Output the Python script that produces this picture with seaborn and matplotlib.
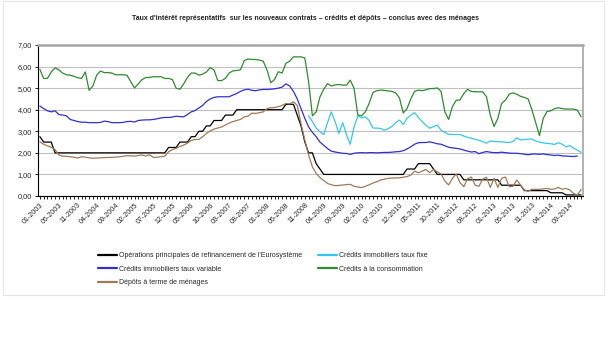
import numpy as np
import pandas as pd
import matplotlib
matplotlib.use("Agg")
import matplotlib.pyplot as plt
import seaborn as sns
from matplotlib.lines import Line2D
from matplotlib.patches import Rectangle

sns.set_theme(style="white")
plt.rcParams['font.family'] = ['Liberation Sans', 'DejaVu Sans']

title = "Taux d'intérêt représentatifs  sur les nouveaux contrats – crédits et dépôts – conclus avec des ménages"

months = [f"{m:02d}-{y}" for y in range(2003, 2015) for m in range(1, 13)]

series_names = [
    "Opérations principales de refinancement de l'Eurosystème",
    "Crédits immobiliers taux fixe",
    "Crédits immobiliers taux variable",
    "Crédits à la consommation",
    "Dépôts à terme de ménages",
]

refi = ([2.75] + [2.50] * 3 + [2.00] * 30 + [2.25] * 3 + [2.50] * 3 + [2.75] * 2 + [3.00] * 2
        + [3.25] * 2 + [3.50] * 3 + [3.75] * 3 + [4.00] * 13 + [4.25] * 3 + [3.75, 3.25, 2.50, 2.00, 2.00, 1.50, 1.25]
        + [1.00] * 22 + [1.25] * 3 + [1.50] * 4 + [1.25] + [1.00] * 7 + [0.75] * 10 + [0.50] * 6
        + [0.25] * 7 + [0.15] * 4 + [0.05] * 5)

fixe = [np.nan] * 71 + [
    3.72, 3.45, 3.15, 2.98, 2.85, 3.40, 3.90, 3.45, 2.90, 3.40,
    2.85, 2.40, 3.20, 3.70, 3.62, 3.67, 3.50, 3.15, 3.15, 3.13,
    3.05, 3.12, 3.22, 3.40, 3.52, 3.32, 3.60, 3.75, 3.86, 3.65,
    3.45, 3.28, 3.14, 3.22, 3.29, 3.05, 2.95, 2.86, 2.85, 2.85,
    2.85, 2.78, 2.72, 2.68, 2.63, 2.59, 2.52, 2.45, 2.55, 2.53,
    2.52, 2.51, 2.49, 2.48, 2.52, 2.70, 2.60, 2.62, 2.63, 2.64,
    2.55, 2.50, 2.46, 2.44, 2.42, 2.39, 2.47, 2.40, 2.28, 2.34,
    2.22, 2.13, 2.02]

variable = [
    4.17, 4.05, 3.95, 3.90, 3.95, 3.78, 3.75, 3.72, 3.55, 3.50,
    3.45, 3.42, 3.42, 3.40, 3.40, 3.40, 3.41, 3.47, 3.45, 3.40,
    3.40, 3.40, 3.41, 3.45, 3.46, 3.43, 3.50, 3.52, 3.53, 3.53,
    3.55, 3.58, 3.62, 3.64, 3.64, 3.66, 3.70, 3.68, 3.67, 3.78,
    3.90, 3.96, 4.08, 4.20, 4.38, 4.50, 4.57, 4.60, 4.60, 4.60,
    4.60, 4.68, 4.75, 4.85, 4.92, 4.95, 4.90, 4.88, 4.92, 4.94,
    4.94, 4.95, 4.97, 5.00, 5.05, 5.20, 5.10, 4.85, 4.50, 4.05,
    3.60, 3.20, 2.95, 2.75, 2.50, 2.35, 2.20, 2.08, 2.04, 2.01,
    1.98, 1.97, 1.93, 1.98, 2.00, 2.01, 2.00, 2.01, 2.01, 2.00,
    2.01, 2.02, 2.02, 2.03, 2.05, 2.06, 2.10, 2.18, 2.28, 2.40,
    2.47, 2.48, 2.48, 2.51, 2.47, 2.42, 2.40, 2.33, 2.26, 2.23,
    2.21, 2.18, 2.13, 2.08, 2.04, 2.06, 1.96, 2.02, 2.06, 2.03,
    2.01, 2.01, 2.03, 2.01, 1.99, 1.98, 1.98, 1.96, 1.94, 1.91,
    1.94, 1.95, 1.93, 1.95, 1.92, 1.90, 1.88, 1.89, 1.86, 1.85,
    1.84, 1.83, 1.85, np.nan]

conso = [
    5.87, 5.45, 5.45, 5.75, 5.94, 5.85, 5.70, 5.62, 5.60, 5.55,
    5.48, 5.45, 5.75, 4.90, 5.10, 5.60, 5.79, 5.72, 5.72, 5.70,
    5.62, 5.62, 5.62, 5.60, 5.30, 5.01, 5.20, 5.40, 5.49, 5.50,
    5.53, 5.53, 5.53, 5.45, 5.45, 5.40, 5.00, 4.95, 5.20, 5.50,
    5.70, 5.70, 5.60, 5.65, 5.75, 5.95, 5.85, 5.35, 5.35, 5.45,
    5.70, 5.80, 5.82, 5.85, 6.28, 6.35, 6.33, 6.33, 6.30, 6.25,
    5.85, 5.25, 5.40, 5.76, 5.70, 6.15, 6.25, 6.45, 6.45, 6.45,
    6.40, 5.30, 3.72, 3.90, 4.60, 4.95, 5.21, 5.10, 5.15, 5.17,
    5.14, 5.14, 5.37, 5.00, 3.75, 3.72, 3.90, 4.30, 4.80, 4.88,
    4.91, 4.90, 4.87, 4.85, 4.78, 4.55, 3.85, 4.05, 4.50, 4.85,
    4.91, 4.88, 4.92, 4.98, 4.98, 5.01, 4.85, 3.90, 3.55, 4.15,
    4.44, 4.45, 4.75, 4.94, 4.85, 4.83, 4.83, 4.83, 4.60, 3.75,
    3.22, 3.60, 4.29, 4.44, 4.72, 4.78, 4.72, 4.62, 4.57, 4.50,
    4.00, 3.40, 2.80, 3.60, 3.92, 3.95, 4.05, 4.09, 4.05, 4.03,
    4.03, 4.03, 3.98, 3.67]

depots = [
    2.51, 2.40, 2.32, 2.26, 2.15, 1.90, 1.85, 1.84, 1.82, 1.80,
    1.76, 1.82, 1.80, 1.77, 1.75, 1.76, 1.77, 1.78, 1.79, 1.79,
    1.80, 1.82, 1.84, 1.87, 1.86, 1.85, 1.88, 1.90, 1.85, 1.91,
    1.79, 1.80, 1.82, 1.85, 2.05, 2.15, 2.21, 2.30, 2.36, 2.45,
    2.58, 2.62, 2.62, 2.75, 2.90, 3.02, 3.10, 3.15, 3.20, 3.29,
    3.38, 3.45, 3.50, 3.55, 3.67, 3.70, 3.84, 3.83, 3.86, 3.90,
    4.05, 4.09, 4.10, 4.14, 4.20, 4.29, 4.27, 4.37, 4.20, 3.36,
    2.59, 1.90, 1.35, 1.05, 0.85, 0.72, 0.58, 0.52, 0.48, 0.49,
    0.51, 0.53, 0.54, 0.45, 0.42, 0.39, 0.45, 0.52, 0.60, 0.66,
    0.74, 0.78, 0.82, 0.83, 0.84, 0.84, 0.87, 0.90, 0.97, 1.15,
    1.08, 1.15, 1.23, 1.08, 1.23, 1.12, 1.02, 0.70, 0.51, 0.82,
    1.02, 0.62, 0.43, 0.80, 0.88, 0.50, 0.45, 0.78, 0.87, 0.40,
    0.82, 0.40, 0.82, 0.88, 0.43, 0.45, 0.74, 0.51, 0.28, 0.22,
    0.31, 0.31, 0.31, 0.33, 0.35, 0.31, 0.33, 0.40, 0.31, 0.35,
    0.28, 0.12, 0.05, 0.30]

colors = ["#000000", "#33c8ee", "#3030d0", "#2e8b2e", "#a07a58"]

values = [refi, fixe, variable, conso, depots]
frames = []
for name, vals in zip(series_names, values):
    frames.append(pd.DataFrame({"idx": np.arange(len(months)), "value": vals, "serie": name}))
df = pd.concat(frames, ignore_index=True)

fig = plt.figure(figsize=(6.09, 3.63), dpi=100)
ax = fig.add_axes([38 / 609, 1 - 196 / 363, (583 - 38) / 609, (196 - 45) / 363])

sns.lineplot(data=df, x="idx", y="value", hue="serie", hue_order=series_names,
             palette=colors, linewidth=0.9, ax=ax, legend=False)

ax.set_xlim(-0.5, len(months) - 0.5)
ax.set_ylim(0, 7)
ax.set_yticks(np.arange(0, 8, 1))
ax.set_yticklabels([f"{v:.2f}".replace(".", ",") for v in np.arange(0, 8, 1)], fontsize=5.3)
tick_pos = list(range(0, len(months), 5))
ax.set_xticks(tick_pos)
ax.set_xticklabels([months[i] for i in tick_pos], rotation=45, ha="right",
                   rotation_mode="anchor", fontsize=5.1)
ax.set_xticks(np.arange(len(months)), minor=True)
ax.set_xlabel("")
ax.set_ylabel("")
ax.grid(axis="y", color="#c0c0c0", linewidth=0.8)
ax.set_axisbelow(True)
ax.tick_params(axis="x", which="both", direction="out", length=2.5, width=0.6,
               color="black", bottom=True, pad=1.5)
ax.tick_params(axis="y", which="major", direction="out", length=2.5, width=0.6,
               color="black", left=True, pad=2)
for s in ["left", "bottom"]:
    ax.spines[s].set_color("black")
    ax.spines[s].set_linewidth(0.8)
ax.spines["top"].set_color("#a6a6a6")
ax.spines["top"].set_linewidth(1.8)
ax.spines["right"].set_color("#a6a6a6")
ax.spines["right"].set_linewidth(1.2)

fig.text(305 / 609, 1 - 18 / 363, title, ha="center", va="center", fontsize=5.0,
         fontweight="bold", color="#222222")

def mk(col):
    return Line2D([0], [0], color=col, linewidth=1.6)
cmap = dict(zip(series_names, colors))
col1 = [series_names[0], series_names[2], series_names[4]]
col2 = [series_names[1], series_names[3]]
for names, x0 in [(col1, 98), (col2, 318)]:
    fig.legend([mk(cmap[n]) for n in names], names, loc="upper left",
               bbox_to_anchor=(x0 / 609, 1 - 252 / 363), frameon=False,
               fontsize=5.0, handlelength=2.7, handletextpad=0.3,
               labelspacing=0.95, borderaxespad=0, borderpad=0)

fig.add_artist(Rectangle((3 / 609, 1 - 295 / 363), (604 - 3) / 609, 294 / 363,
                         transform=fig.transFigure, fill=False,
                         edgecolor="#e6e6e6", linewidth=0.8))

fig.savefig("out.png", dpi=100)
